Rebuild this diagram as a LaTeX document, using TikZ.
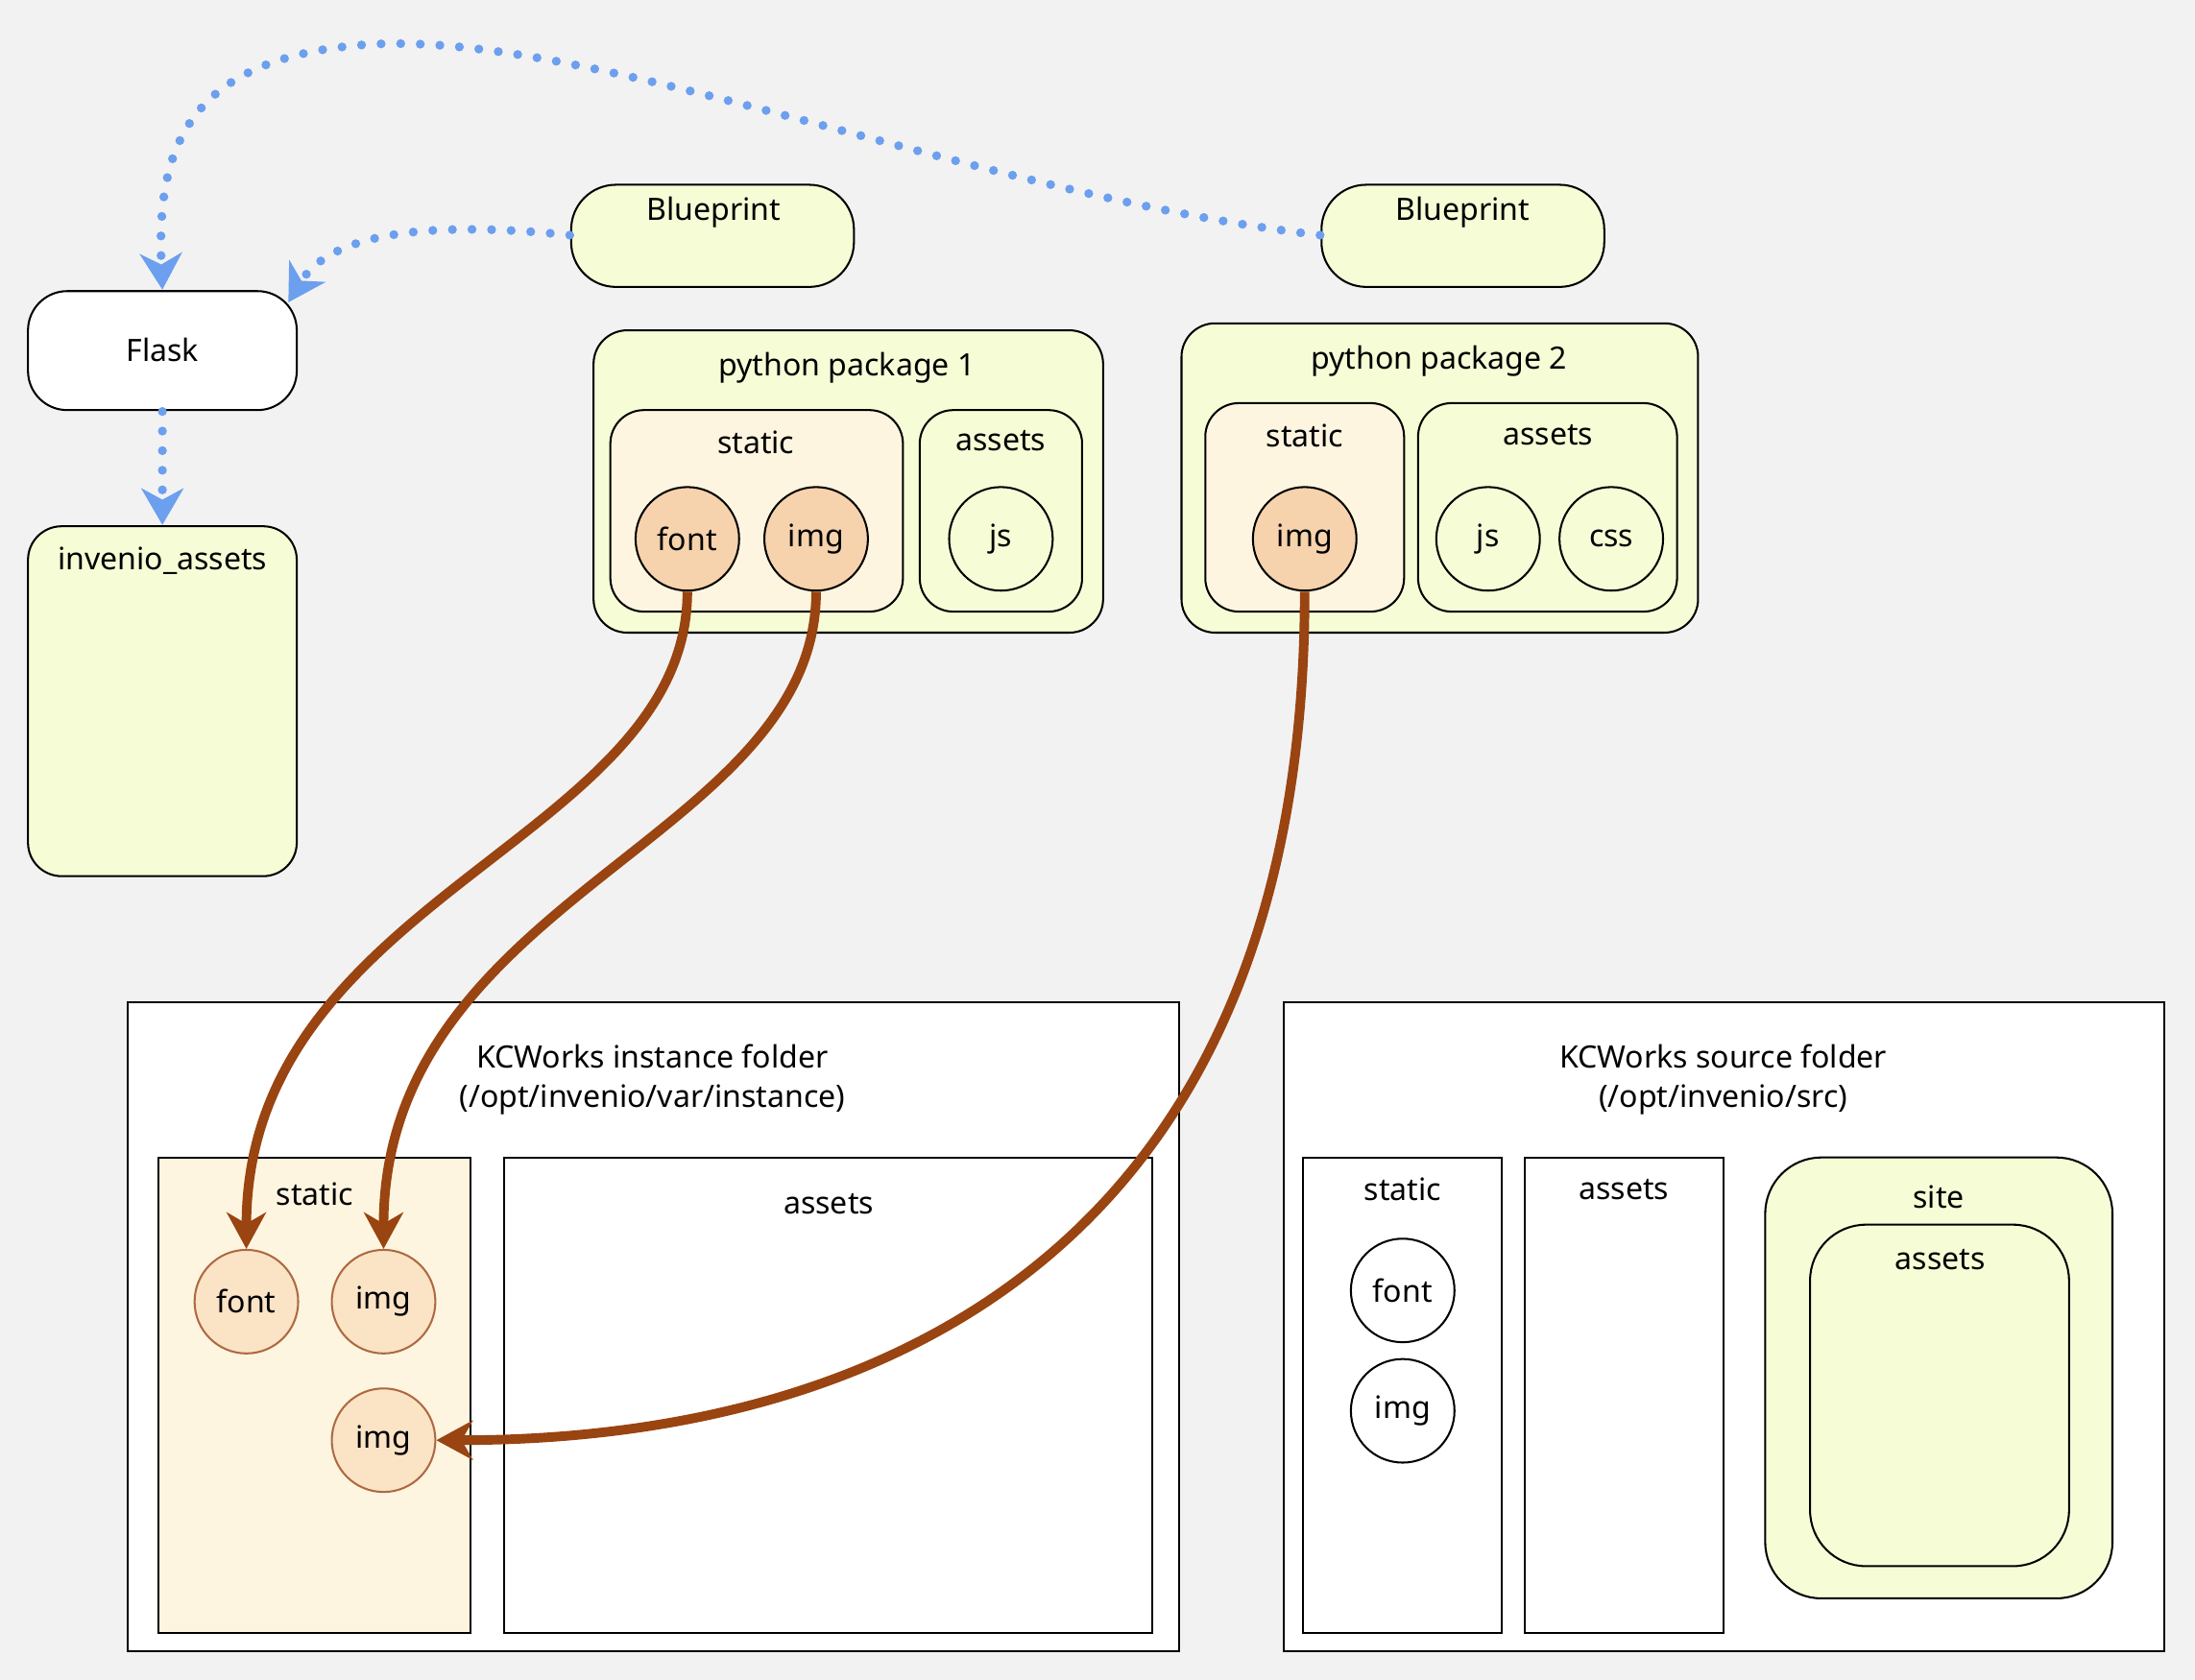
\documentclass[tikz,border=0pt]{standalone}
\usepackage{fontspec}
\setmainfont{Noto Sans}
\usetikzlibrary{arrows.meta}
\definecolor{bg}{HTML}{F2F2F2}
\definecolor{ylw}{HTML}{F6FDD6}
\definecolor{stc}{HTML}{FDF5E0}
\definecolor{crc}{HTML}{F6D2AD}
\definecolor{crc2}{HTML}{FBE3C6}
\definecolor{brn}{HTML}{994411}
\definecolor{blu}{HTML}{6C9FEE}
\tikzset{
  box/.style={draw=black,line width=0.7pt,rounded corners=12pt},
  sq/.style={draw=black,line width=0.7pt},
  lbl/.style={font=\fontsize{11}{13}\selectfont,anchor=center},
  circ/.style={circle,draw=black,line width=0.7pt,minimum size=37pt,inner sep=0pt,font=\fontsize{11}{13}\selectfont},
  bcirc/.style={circ,draw=brn!80,fill=crc2},
  dots/.style={blu,line width=3.2pt,line cap=round,dash pattern=on 0pt off 7pt,-{Stealth[length=13pt,width=15pt,inset=4pt,line cap=butt]}},
  brw/.style={brn,line width=3.4pt,-{Stealth[length=13pt,width=14pt,inset=4pt]}}
}
\begin{document}
\begin{tikzpicture}[x=0.5pt,y=-0.5pt]
\fill[bg] (0,0) rectangle (1568,1200);
\useasboundingbox (0,0) rectangle (1568,1200);
% top nodes
\draw[box,fill=white,rounded corners=14pt] (20,208) rectangle (212,293);
\node[lbl] (flask) at (116,250) {Flask};
\coordinate (flaskN) at (116,207); \coordinate (flaskNE) at (206,216); \coordinate (flaskS) at (116,294);
\draw[box,fill=ylw] (20,376) rectangle (212,626);
\node[lbl] (ia) at (116,401) {invenio\_assets};
\coordinate (iaN) at (116,375);
\draw[box,fill=ylw,rounded corners=16pt] (408,132) rectangle (610,205);
\node[lbl] (bp1) at (510,152) {Blueprint};
\coordinate (bp1W) at (407,168);
\draw[box,fill=ylw,rounded corners=16pt] (944,132) rectangle (1146,205);
\node[lbl] (bp2) at (1045,152) {Blueprint};
\coordinate (bp2W) at (943,168);
% package 1
\draw[box,fill=ylw] (424,236) rectangle (788,452);
\node[lbl] at (605,263) {python package 1};
\draw[box,fill=stc] (436,293) rectangle (645,437);
\node[lbl] at (540,316) {static};
\node[circ,fill=crc] (f1) at (491,385) {font};
\node[circ,fill=crc] (i1) at (583,385) {img};
\draw[box,fill=ylw] (657,293) rectangle (773,437);
\node[lbl] at (715,315) {assets};
\node[circ,fill=ylw] (j1) at (715,385) {js};
% package 2
\draw[box,fill=ylw] (844,231) rectangle (1213,452);
\node[lbl] at (1028,258) {python package 2};
\draw[box,fill=stc] (861,288) rectangle (1003,437);
\node[lbl] at (932,311) {static};
\node[circ,fill=crc] (i2) at (932,385) {img};
\draw[box,fill=ylw] (1013,288) rectangle (1198,437);
\node[lbl] at (1106,311) {assets};
\node[circ,fill=ylw] (j2) at (1063,385) {js};
\node[circ,fill=ylw] (c2) at (1151,385) {css};
% instance folder
\draw[sq,fill=white] (91,716) rectangle (842,1180);
\node[lbl] at (466,755) {KCWorks instance folder};
\node[lbl] at (466,786) {(/opt/invenio/var/instance)};
\draw[sq,fill=stc] (113,827) rectangle (336,1167);
\node[lbl] at (225,853) {static};
\node[bcirc] (f3) at (176,930) {font};
\node[bcirc] (i3) at (274,930) {img};
\node[bcirc] (i4) at (274,1029) {img};
\draw[sq,fill=white] (360,827) rectangle (823,1167);
\node[lbl] at (592,860) {assets};
% source folder
\draw[sq,fill=white] (917,716) rectangle (1546,1180);
\node[lbl] at (1231,755) {KCWorks source folder};
\node[lbl] at (1231,786) {(/opt/invenio/src)};
\draw[sq,fill=white] (931,827) rectangle (1073,1167);
\node[lbl] at (1002,850) {static};
\node[circ,fill=white] (f5) at (1002,922) {font};
\node[circ,fill=white] (i5) at (1002,1008) {img};
\draw[sq,fill=white] (1089,827) rectangle (1231,1167);
\node[lbl] at (1160,850) {assets};
\draw[box,fill=ylw,rounded corners=20pt] (1261,827) rectangle (1509,1142);
\node[lbl] at (1385,855) {site};
\draw[box,fill=ylw,rounded corners=20pt] (1293,875) rectangle (1478,1119);
\node[lbl] at (1386,900) {assets};
% dotted arrows
\draw[dots] (bp1W) .. controls (330,160) and (240,160) .. (flaskNE);
\draw[dots] (bp2W) .. controls (700,140) and (420,20) .. (260,32) .. controls (130,42) and (112,110) .. (flaskN);
\draw[dots] (flaskS) -- (iaN);
% brown arrows
\draw[brw] (f1.south) .. controls (491,600) and (176,640) .. (f3.north);
\draw[brw] (i1.south) .. controls (583,600) and (274,640) .. (i3.north);
\draw[brw] (i2.south) .. controls (932,900) and (620,1029) .. (i4.east);
\end{tikzpicture}
\end{document}
